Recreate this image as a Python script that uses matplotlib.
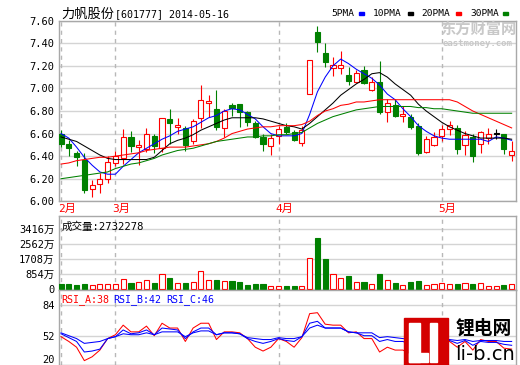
import numpy as np
import matplotlib.pyplot as plt
from matplotlib.patches import Rectangle

plt.rcParams['font.family'] = ['DejaVu Sans Mono', 'Noto Sans CJK SC']

# daily prices, 2014-02-20 .. 2014-05-16
opens = [6.60, 6.51, 6.43, 6.37, 6.11, 6.15, 6.20, 6.34, 6.38, 6.57,
         6.48, 6.46, 6.58, 6.47, 6.73, 6.66, 6.65, 6.53, 6.74, 6.87,
         6.82, 6.65, 6.85, 6.86, 6.79, 6.69, 6.57, 6.49, 6.58, 6.66,
         6.61, 6.52, 6.95, 7.50, 7.31, 7.18, 7.18, 7.12, 7.06, 7.16,
         6.99, 7.06, 6.79, 6.85, 6.76, 6.75, 6.67, 6.44, 6.50, 6.58,
         6.64, 6.65, 6.50, 6.57, 6.51, 6.56, 6.60, 6.60, 6.41]
highs = [6.63, 6.54, 6.45, 6.43, 6.19, 6.25, 6.40, 6.45, 6.64, 6.62,
         6.54, 6.65, 6.60, 6.74, 6.82, 6.74, 6.67, 6.73, 7.03, 6.94,
         6.99, 6.82, 6.87, 6.86, 6.80, 6.71, 6.60, 6.60, 6.67, 6.69,
         6.63, 6.67, 7.25, 7.55, 7.40, 7.28, 7.33, 7.19, 7.16, 7.20,
         7.10, 7.24, 6.91, 6.91, 6.84, 6.77, 6.69, 6.58, 6.61, 6.68,
         6.71, 6.68, 6.62, 6.60, 6.62, 6.65, 6.64, 6.60, 6.53]
lows = [6.48, 6.40, 6.31, 6.07, 6.04, 6.07, 6.16, 6.31, 6.33, 6.44,
        6.32, 6.44, 6.43, 6.44, 6.51, 6.60, 6.45, 6.51, 6.65, 6.75,
        6.63, 6.57, 6.76, 6.66, 6.67, 6.56, 6.45, 6.41, 6.51, 6.60,
        6.53, 6.49, 6.95, 7.32, 7.19, 7.11, 7.13, 7.03, 7.05, 7.04,
        6.98, 6.77, 6.70, 6.75, 6.70, 6.64, 6.41, 6.43, 6.49, 6.53,
        6.59, 6.42, 6.41, 6.35, 6.43, 6.51, 6.55, 6.42, 6.36]
closes = [6.51, 6.47, 6.39, 6.10, 6.14, 6.20, 6.35, 6.40, 6.57, 6.49,
          6.50, 6.60, 6.49, 6.74, 6.69, 6.68, 6.50, 6.71, 6.90, 6.89,
          6.66, 6.80, 6.83, 6.79, 6.70, 6.57, 6.51, 6.56, 6.64, 6.61,
          6.54, 6.63, 7.25, 7.41, 7.23, 7.21, 7.21, 7.07, 7.14, 7.05,
          7.06, 6.79, 6.87, 6.76, 6.77, 6.66, 6.43, 6.55, 6.57, 6.64,
          6.68, 6.46, 6.59, 6.40, 6.61, 6.60, 6.60, 6.46, 6.45]

ma5 = [6.60, 6.56, 6.48, 6.39, 6.32, 6.26, 6.24, 6.24, 6.31, 6.37,
       6.43, 6.47, 6.51, 6.55, 6.58, 6.62, 6.64, 6.66, 6.70, 6.74,
       6.76, 6.80, 6.82, 6.81, 6.77, 6.73, 6.66, 6.60, 6.58, 6.58,
       6.58, 6.60, 6.77, 6.97, 7.10, 7.20, 7.26, 7.22, 7.17, 7.13,
       7.09, 7.03, 6.95, 6.90, 6.82, 6.75, 6.67, 6.62, 6.58, 6.56,
       6.55, 6.55, 6.55, 6.55, 6.55, 6.53, 6.57, 6.56, 6.54]
ma10 = [6.57, 6.55, 6.53, 6.49, 6.45, 6.41, 6.38, 6.37, 6.37, 6.37,
        6.37, 6.37, 6.39, 6.45, 6.51, 6.54, 6.56, 6.59, 6.63, 6.66,
        6.69, 6.72, 6.74, 6.74, 6.74, 6.74, 6.73, 6.71, 6.69, 6.67,
        6.66, 6.64, 6.69, 6.75, 6.81, 6.87, 6.94, 6.99, 7.04, 7.08,
        7.13, 7.14, 7.10, 7.04, 6.99, 6.94, 6.86, 6.80, 6.75, 6.70,
        6.66, 6.63, 6.60, 6.58, 6.56, 6.56, 6.56, 6.56, 6.55]
ma20 = [6.33, 6.34, 6.36, 6.37, 6.38, 6.39, 6.39, 6.40, 6.41, 6.42,
        6.43, 6.45, 6.46, 6.47, 6.48, 6.48, 6.48, 6.49, 6.50, 6.51,
        6.53, 6.56, 6.60, 6.62, 6.64, 6.65, 6.66, 6.66, 6.67, 6.67,
        6.67, 6.68, 6.71, 6.76, 6.80, 6.82, 6.85, 6.86, 6.88, 6.88,
        6.89, 6.90, 6.90, 6.90, 6.90, 6.90, 6.90, 6.90, 6.90, 6.90,
        6.90, 6.88, 6.84, 6.80, 6.77, 6.74, 6.71, 6.68, 6.65]
ma30 = [6.20, 6.21, 6.22, 6.23, 6.24, 6.25, 6.26, 6.29, 6.31, 6.33,
        6.34, 6.36, 6.38, 6.41, 6.43, 6.45, 6.46, 6.47, 6.49, 6.51,
        6.53, 6.54, 6.55, 6.56, 6.57, 6.57, 6.58, 6.58, 6.59, 6.59,
        6.60, 6.61, 6.65, 6.69, 6.72, 6.75, 6.77, 6.79, 6.81, 6.82,
        6.83, 6.84, 6.84, 6.84, 6.84, 6.84, 6.83, 6.83, 6.82, 6.82,
        6.81, 6.80, 6.79, 6.78, 6.78, 6.78, 6.78, 6.78, 6.78]

# volume in 万股
volume = [290, 290, 233, 290, 233, 273, 273, 273, 558, 330,
          387, 501, 330, 843, 632, 364, 330, 387, 1048, 501,
          501, 444, 444, 387, 233, 273, 273, 159, 159, 176,
          176, 176, 1754, 2909, 1714, 843, 615, 746, 387, 404,
          273, 860, 518, 330, 233, 404, 461, 233, 273, 330,
          273, 273, 330, 290, 330, 176, 176, 233, 273]

rsi_a = [51, 46, 40, 26, 30, 37, 49, 53, 63, 56, 56, 62, 52, 65, 60, 60, 46, 60, 65, 65,
         48, 56, 56, 55, 49, 40, 36, 40, 49, 46, 40, 50, 75, 76, 64, 63, 63, 55, 56, 49,
         49, 35, 40, 37, 37, 33, 30, 38, 45, 47, 46, 40, 46, 37, 48, 46, 46, 39, 38]
rsi_b = [54, 50, 46, 35, 36, 38, 49, 51, 58, 54, 55, 58, 53, 60, 59, 58, 49, 56, 60, 60,
         53, 55, 55, 54, 49, 46, 44, 46, 49, 47, 46, 51, 65, 67, 60, 60, 60, 56, 55, 52,
         52, 46, 48, 46, 46, 43, 40, 44, 47, 48, 47, 44, 47, 42, 46, 45, 45, 43, 42]
rsi_c = [55, 52, 49, 44, 45, 46, 49, 51, 54, 53, 53, 55, 53, 56, 56, 56, 51, 55, 57, 57,
         53, 55, 55, 54, 50, 49, 48, 48, 50, 49, 49, 51, 60, 63, 60, 60, 60, 56, 55, 55,
         55, 50, 51, 50, 49, 48, 46, 47, 48, 49, 48, 47, 48, 46, 47, 47, 47, 46, 46]

month_labels = ['2月', '3月', '4月', '5月']
month_starts = [0, 7, 28, 49]
price_ticks = [6.0, 6.2, 6.4, 6.6, 6.8, 7.0, 7.2, 7.4, 7.6]
vol_ticks = [0, 854, 1708, 2562, 3416]
rsi_ticks = [52, 84]

RED = '#ff0000'
GREEN = '#008000'
BLUE = '#0000ff'
GRID = '#d4d4d4'
FRAME = '#a8a8a8'
W, H = 520, 365

fig = plt.figure(figsize=(W / 100, H / 100), dpi=100)


def px_box(top, bottom, left=58.7, right=515.7):
    return [left / W, 1 - bottom / H, (right - left) / W, (bottom - top) / H]


ax = fig.add_axes(px_box(20.7, 201.3))
axv = fig.add_axes(px_box(216.3, 289.5))
axr = fig.add_axes(px_box(290, 365))

x = np.arange(len(closes))
o = np.array(opens)
c = np.array(closes)
up = c > o
down = c < o
edge = np.where(up, RED, np.where(down, GREEN, 'black'))
face = np.where(up, 'white', np.where(down, GREEN, 'black'))

# candles
ax.vlines(x, lows, highs, colors=edge, lw=0.8, zorder=2)
body = np.maximum(np.abs(c - o), 0.004)
ax.bar(x, body, bottom=np.minimum(o, c), width=0.66, color=face,
       edgecolor=edge, lw=0.8, zorder=3)

ax.plot(x, ma5, color=BLUE, lw=0.75, zorder=4)
ax.plot(x, ma10, color='black', lw=0.75, zorder=4)
ax.plot(x, ma20, color=RED, lw=0.75, zorder=4)
ax.plot(x, ma30, color=GREEN, lw=0.75, zorder=4)

ax.set_ylim(6.0, 7.6)
ax.set_yticks(price_ticks)
ax.set_yticklabels(['%.2f' % t for t in price_ticks])

# volume
vol_edge = np.where(c >= o, RED, GREEN)
vol_face = np.where(c >= o, 'white', GREEN)
axv.bar(x, volume, width=0.66, color=vol_face, edgecolor=vol_edge, lw=0.8, zorder=3)
axv.set_ylim(-23, 4145)
axv.set_yticks(vol_ticks)
axv.set_yticklabels(['0'] + ['%d万' % v for v in vol_ticks[1:]])
axv.text(0.006, 0.865, '成交量:2732278', transform=axv.transAxes,
         fontsize=7.6, va='center', ha='left', zorder=5)

# RSI
axr.plot(x, rsi_a, color=RED, lw=0.75, zorder=3)
axr.plot(x, rsi_b, color=BLUE, lw=0.75, zorder=3)
axr.plot(x, rsi_c, color=BLUE, lw=0.75, zorder=3)
axr.set_ylim(21.45, 99.65)
axr.set_yticks(rsi_ticks)
axr.set_yticklabels([str(t) for t in rsi_ticks])
axr.text(-0.008, 0.0, '20', transform=axr.transAxes, fontsize=7.5,
         ha='right', va='bottom')
rsi_head = [('RSI_A:38', RED, 61), ('RSI_B:42', BLUE, 113), ('RSI_C:46', BLUE, 166)]
for label, col, px in rsi_head:
    fig.text(px / W, 1 - 300 / H, label, color=col, fontsize=7.2, va='center')

for a in (ax, axv, axr):
    a.set_xlim(-0.3, 58.52)
    a.set_xticks([])
    a.yaxis.grid(True, color=GRID, lw=1, zorder=0)
    a.set_axisbelow(True)
    a.tick_params(axis='y', length=0, pad=3, labelsize=7.5)
    for m in month_starts:
        a.axvline(m, color='#b8b8b8', lw=1, ls=(0, (3, 3)), zorder=1)
    for s in a.spines.values():
        s.set_color(FRAME)
        s.set_linewidth(1)

for m, lab in zip(month_starts, month_labels):
    ax.text(m - 0.4, -0.04, lab, transform=ax.get_xaxis_transform(),
            color=RED, fontsize=8, va='center', ha='left')

# title and legend
fig.text(61 / W, 1 - 14 / H, '力帆股份', fontsize=9.5, va='center',
         family='Noto Sans CJK SC')
fig.text(115 / W, 1 - 14 / H, '[601777] 2014-05-16', fontsize=7.2, va='center')
legend = [('5PMA', BLUE, 331.7, 359), ('10PMA', 'black', 373, 408),
          ('20PMA', RED, 421.7, 456), ('30PMA', GREEN, 470, 503)]
for label, col, tx, sx in legend:
    fig.text(tx / W, 1 - 14 / H, label, fontsize=6.8, va='center')
    fig.patches.append(Rectangle((sx / W, 1 - 15 / H), 5 / W, 3 / H, color=col,
                                 transform=fig.transFigure, figure=fig))

# watermarks
fig.text(440 / W, 1 - 29 / H, '东方财富网', fontsize=11, color='#c8c8c8',
         weight='bold', family='Noto Sans CJK SC', va='center')
fig.text(443 / W, 1 - 43 / H, 'eastmoney.com', fontsize=6.5, color='#c8c8c8',
         weight='bold', va='center')
logo = [(404.3, 318.3, 44, 47, '#d40000'), (409, 323.3, 11, 38.4, 'white'),
        (409, 353, 19.3, 8.7, 'white'), (430, 323.3, 7, 38.4, 'white')]
for lx, ly, lw_, lh, col in logo:
    fig.patches.append(Rectangle((lx / W, 1 - (ly + lh) / H), lw_ / W, lh / H,
                                 color=col, transform=fig.transFigure, figure=fig,
                                 zorder=10))
fig.text(456 / W, 1 - 328 / H, '锂电网', fontsize=13.5, weight='bold',
         family='Noto Sans CJK SC', va='center', zorder=11)
fig.text(455 / W, 1 - 354 / H, 'li-b.cn', fontsize=14, family='DejaVu Sans',
         va='center', zorder=11)

fig.savefig('out.png', dpi=100)
